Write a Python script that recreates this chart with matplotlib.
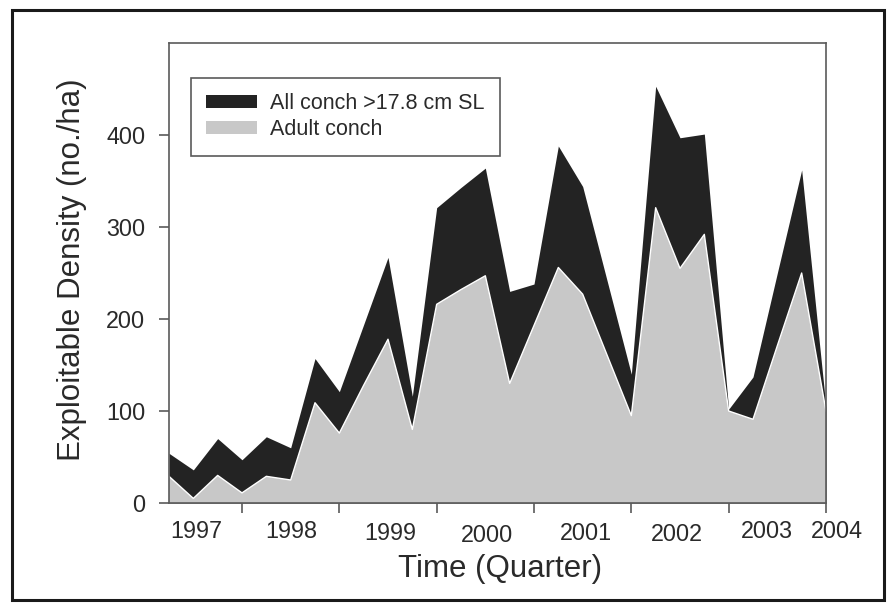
import matplotlib
matplotlib.use("Agg")
import matplotlib.pyplot as plt
from matplotlib.patches import Patch, Rectangle
import numpy as np

plt.rcParams['font.family'] = ['Liberation Sans', 'DejaVu Sans']

# Quarterly sampling, 1997 Q2 through the start of 2004
quarters = np.arange(1997.25, 2004.0 + 0.001, 0.25)

# Exploitable density (no./ha)
all_conch = [54, 36, 70, 47, 72, 60, 157, 121, 194, 267, 116, 321, 343, 364,
             230, 238, 388, 344, 242, 140, 453, 397, 401, 102, 137, 250, 362, 104]
adult_conch = [29, 5, 30, 11, 29, 25, 109, 76, 128, 178, 80, 216, 232, 247,
               130, 193, 256, 227, 161, 95, 321, 255, 292, 100, 91, 171, 250, 100]

year_labels = ['1997', '1998', '1999', '2000', '2001', '2002', '2003', '2004']
year_ticks = [1998, 1999, 2000, 2001, 2002, 2003, 2004]

# label placement (x in years, vertical offset below the axis in pixels)
label_x = [1997.53, 1998.51, 1999.52, 2000.52, 2001.53, 2002.47, 2003.39, 2004.11]
label_dy = [29, 29, 30.5, 32, 30, 31.5, 28, 29]

BLACK = '#232323'
GREY = '#c8c8c8'
AXCOL = '#5a5a5a'
TXT = '#2a2a2a'

fig = plt.figure(figsize=(8.96, 6.12), dpi=100)
fig.patch.set_facecolor('white')
fig.patches.append(Rectangle((12 / 896, 1 - 600 / 612), (884 - 12) / 896, (600 - 10) / 612,
                             transform=fig.transFigure, fill=False,
                             edgecolor='#1a1a1a', linewidth=2.2))

ax = fig.add_axes([169 / 896, 1 - 503 / 612, (826 - 169) / 896, (503 - 43) / 612])

ax.fill_between(quarters, 0, all_conch, color=BLACK, linewidth=0)
ax.fill_between(quarters, 0, adult_conch, facecolor=GREY, edgecolor='none', linewidth=0)
ax.plot(quarters, adult_conch, color='white', linewidth=1.0)

ax.set_xlim(quarters[0], quarters[-1])
ax.set_ylim(0, 500)
ax.set_yticks([0, 100, 200, 300, 400])
ax.set_xticks(year_ticks)
ax.set_xticklabels([])

for s in ax.spines.values():
    s.set_color(AXCOL)
    s.set_linewidth(1.2)

ax.tick_params(axis='both', direction='out', length=7, width=1.2, color=AXCOL)
ax.tick_params(axis='y', labelsize=16.8, labelcolor=TXT, pad=10)

for lab, xv, dy in zip(year_labels, label_x, label_dy):
    ax.annotate(lab, xy=(xv, 0), xycoords=('data', 'axes fraction'),
                xytext=(0, -dy), textcoords='offset pixels',
                ha='center', va='center', fontsize=16.8, color=TXT,
                annotation_clip=False)

fig.text(500 / 896, 1 - 569 / 612, 'Time (Quarter)', ha='center', va='center',
         fontsize=22.5, color=TXT)
fig.text(72 / 896, 1 - 270 / 612, 'Exploitable Density (no./ha)', ha='center',
         va='center', rotation=90, fontsize=22.5, color=TXT)

handles = [Patch(facecolor=BLACK, edgecolor='none', label='All conch >17.8 cm SL'),
           Patch(facecolor=GREY, edgecolor='none', label='Adult conch')]
leg = ax.legend(handles=handles, loc='upper left',
                bbox_to_anchor=(22 / 657, 1 - 35 / 460), borderaxespad=0,
                fontsize=15.5, frameon=True, fancybox=False, framealpha=1,
                handlelength=2.37, handleheight=0.56, handletextpad=0.6,
                borderpad=0.7, labelspacing=0.25)
leg.get_frame().set_edgecolor(AXCOL)
leg.get_frame().set_linewidth(1.2)
for t in leg.get_texts():
    t.set_color(TXT)

fig.savefig('out.png', dpi=100, facecolor='white')
